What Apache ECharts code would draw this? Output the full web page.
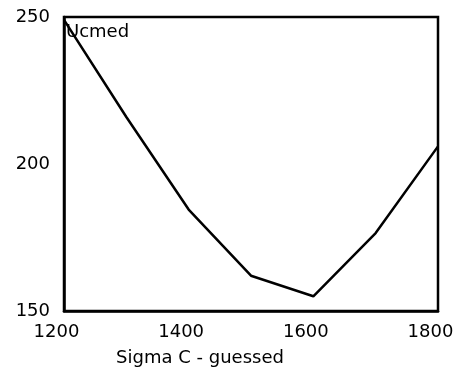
<!DOCTYPE html>
<html>
<head>
<meta charset="utf-8">
<script src="https://cdn.jsdelivr.net/npm/echarts@6/dist/echarts.min.js"></script>
<style>
  html, body { margin: 0; padding: 0; background: #fff; }
  #chart { width: 454px; height: 367px; }
</style>
</head>
<body>
<div id="chart"></div>
<script>
// Ucmed as a function of the guessed Sigma C
const sigmaC = [1200, 1300, 1400, 1500, 1600, 1700, 1800];
const ucmed = [249, 216, 184.5, 162, 155, 176.5, 206];
const xTicks = [1200, 1400, 1600, 1800];
const yTicks = [150, 200, 250];

const font = 'DejaVu Sans';
const chart = echarts.init(document.getElementById('chart'));

chart.setOption({
  animation: false,
  backgroundColor: '#fff',
  grid: {
    left: 64, right: 16, top: 17, bottom: 56,
    containLabel: false,
    outerBoundsMode: 'none',
    show: true, borderColor: '#000', borderWidth: 2.5,
    backgroundColor: 'transparent'
  },
  graphic: [{
    type: 'text',
    left: 66, top: 23,
    style: { text: 'Ucmed', font: '18px "DejaVu Sans"', fill: '#000' },
    z: 100
  }],
  xAxis: {
    type: 'value',
    min: xTicks[0], max: xTicks[xTicks.length - 1], interval: 200,
    name: 'Sigma C - guessed',
    nameLocation: 'middle',
    nameGap: 38,
    nameTextStyle: { fontFamily: font, fontSize: 18, color: '#000', padding: [0, 102, 0, 0] },
    axisLine: { show: true, lineStyle: { color: '#000', width: 2.5 } },
    axisTick: { show: false },
    splitLine: { show: false },
    axisLabel: {
      fontFamily: font, fontSize: 18, color: '#000', margin: 12,
      padding: [0, 15, 0, 0], formatter: v => String(v)
    }
  },
  yAxis: {
    type: 'value',
    min: yTicks[0], max: yTicks[yTicks.length - 1], interval: 50,
    axisLine: { show: true, lineStyle: { color: '#000', width: 2.5 } },
    axisTick: { show: false },
    splitLine: { show: false },
    axisLabel: { fontFamily: font, fontSize: 18, color: '#000', margin: 14, formatter: v => String(v) }
  },
  series: [{
    name: 'Ucmed',
    type: 'line',
    data: sigmaC.map((x, i) => [x, ucmed[i]]),
    showSymbol: false,
    lineStyle: { color: '#000', width: 2.5 },
    clip: false
  }]
});
</script>
</body>
</html>
